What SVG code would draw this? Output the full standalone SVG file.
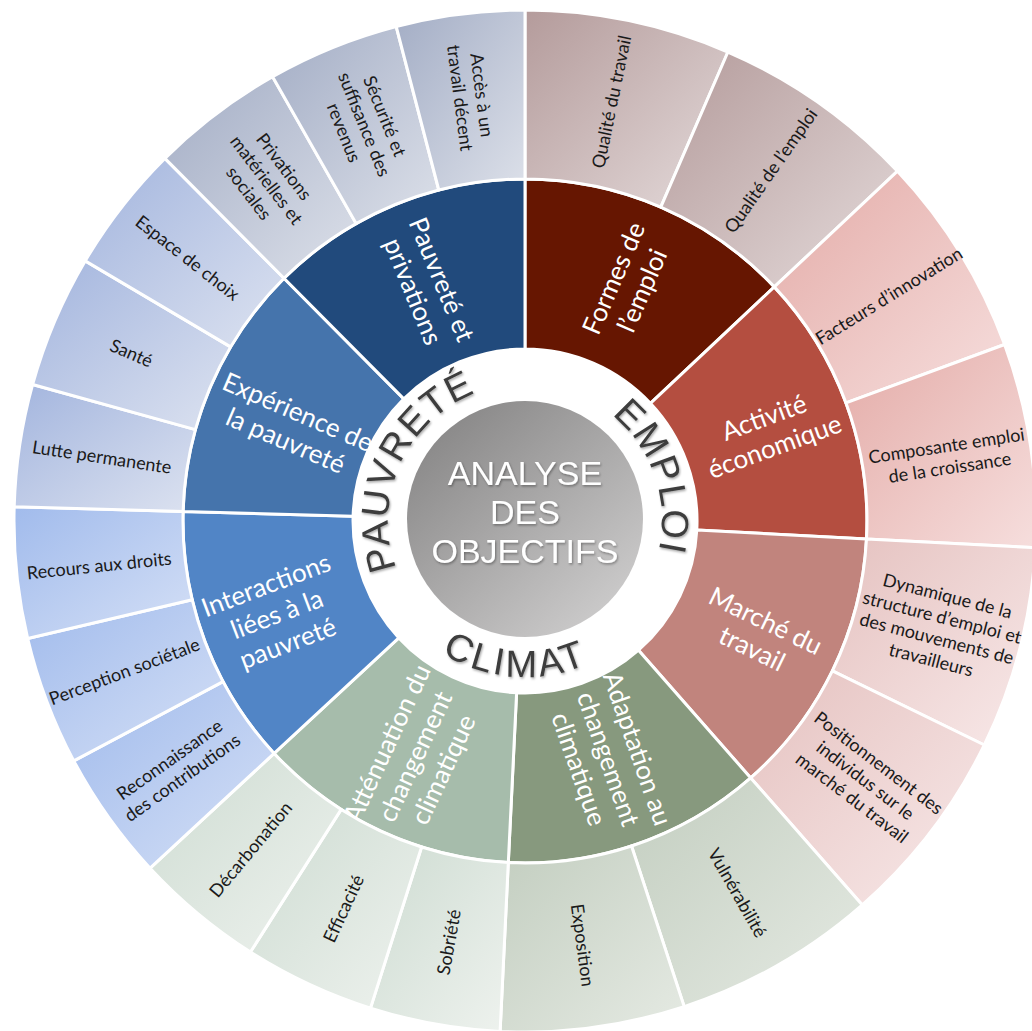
<svg xmlns="http://www.w3.org/2000/svg" width="1032" height="1031" viewBox="0 0 1032 1031">
<defs>
<style>
.seg{stroke:#fff;stroke-width:3;stroke-linejoin:round}
.ol{font-family:Lato,"Liberation Sans",sans-serif;font-size:18px;fill:#1a1a1a;text-anchor:middle}
.il{font-family:Lato,"Liberation Sans",sans-serif;font-size:26px;fill:#fff;text-anchor:middle}
.ring{font-family:"Liberation Sans",Arial,sans-serif;font-size:38px;fill:#3c3c3c;text-anchor:middle;letter-spacing:1.5px}
.ctr{font-family:"Liberation Sans",Arial,sans-serif;font-size:34px;fill:#fff;text-anchor:middle}
</style>
<linearGradient id="gEmp1" x1="0" y1="0" x2="1" y2="1"><stop offset="0" stop-color="#B49B9B"/><stop offset="1" stop-color="#E4DADA"/></linearGradient>
<linearGradient id="gEmp2" x1="0" y1="0" x2="1" y2="1"><stop offset="0" stop-color="#E4ACA8"/><stop offset="1" stop-color="#F6DEDD"/></linearGradient>
<linearGradient id="gEmp3" x1="0" y1="0" x2="1" y2="1"><stop offset="0" stop-color="#E5C2C0"/><stop offset="1" stop-color="#F8E9E9"/></linearGradient>
<linearGradient id="gAdp" x1="0" y1="0" x2="1" y2="1"><stop offset="0" stop-color="#C3CEC0"/><stop offset="1" stop-color="#E5EAE3"/></linearGradient>
<linearGradient id="gAtt" x1="0" y1="0" x2="1" y2="1"><stop offset="0" stop-color="#CEDCD2"/><stop offset="1" stop-color="#EEF2EE"/></linearGradient>
<linearGradient id="gInt" x1="0" y1="0" x2="1" y2="1"><stop offset="0" stop-color="#A1BBEC"/><stop offset="1" stop-color="#D5E0F6"/></linearGradient>
<linearGradient id="gExp" x1="0" y1="0" x2="1" y2="1"><stop offset="0" stop-color="#A3B5DE"/><stop offset="1" stop-color="#DCE2F0"/></linearGradient>
<linearGradient id="gPau" x1="0" y1="0" x2="1" y2="1"><stop offset="0" stop-color="#A3ADC5"/><stop offset="1" stop-color="#DCE0E9"/></linearGradient>
<linearGradient id="gCtr" x1="0.15" y1="0.1" x2="0.85" y2="0.9"><stop offset="0" stop-color="#8A8989"/><stop offset="1" stop-color="#CBCACA"/></linearGradient>
<filter id="sh" x="-20%" y="-20%" width="140%" height="140%"><feDropShadow dx="1" dy="1.5" stdDeviation="1.2" flood-color="#000" flood-opacity="0.35"/></filter>
<path id="cw" d="M 525,658 A 137 137 0 1 1 525,384 A 137 137 0 1 1 525,658"/>
<path id="ccw" d="M 525,365 A 156 156 0 1 0 525,677 A 156 156 0 1 0 525,365"/>
</defs>
<rect width="1032" height="1031" fill="#fff"/>

<!-- Inner ring -->
<g id="formes-emploi">
<path class="seg" fill="#661601" d="M 525,349 L 525,179 A 342 342 0 0 1 774.3,286.9 L 650.4,403.3 A 172 172 0 0 0 525,349 Z"/>
<g transform="translate(627.5,284.2) rotate(-66.6)"><text class="il"><tspan x="0" y="-6">Formes de</tspan><tspan x="0" y="25">l’emploi</tspan></text></g>
</g>
<g id="activite-economique">
<path class="seg" fill="#B44E40" d="M 650.4,403.3 L 774.3,286.9 A 342 342 0 0 1 866.5,538.9 L 696.8,530.0 A 172 172 0 0 0 650.4,403.3 Z"/>
<g transform="translate(769.2,431.6) rotate(-20.1)"><text class="il"><tspan x="0" y="-6">Activité</tspan><tspan x="0" y="25">économique</tspan></text></g>
</g>
<g id="marche-travail">
<path class="seg" fill="#C1847D" d="M 696.8,530.0 L 866.5,538.9 A 342 342 0 0 1 750.7,777.9 L 638.5,650.2 A 172 172 0 0 0 696.8,530.0 Z"/>
<g transform="translate(759,634.4) rotate(25.85)"><text class="il"><tspan x="0" y="-6">Marché du</tspan><tspan x="0" y="25">travail</tspan></text></g>
</g>
<g id="adaptation">
<path class="seg" fill="#87997E" d="M 638.5,650.2 L 750.7,777.9 A 342 342 0 0 1 508.3,862.6 L 516.6,692.8 A 172 172 0 0 0 638.5,650.2 Z"/>
<g transform="translate(608.1,758.9) rotate(70.75)"><text class="il"><tspan x="0" y="-22">Adaptation au</tspan><tspan x="0" y="9">changement</tspan><tspan x="0" y="40">climatique</tspan></text></g>
</g>
<g id="attenuation">
<path class="seg" fill="#A6BCAB" d="M 516.6,692.8 L 508.3,862.6 A 342 342 0 0 1 274.1,753.4 L 398.8,637.9 A 172 172 0 0 0 516.6,692.8 Z"/>
<g transform="translate(415.1,756.6) rotate(-65)"><text class="il"><tspan x="0" y="-22">Atténuation du</tspan><tspan x="0" y="9">changement</tspan><tspan x="0" y="40">climatique</tspan></text></g>
</g>
<g id="interactions">
<path class="seg" fill="#5185C6" d="M 398.8,637.9 L 274.1,753.4 A 342 342 0 0 1 183.1,511.5 L 353.1,516.2 A 172 172 0 0 0 398.8,637.9 Z"/>
<g transform="translate(276.9,614.2) rotate(-20.6)"><text class="il"><tspan x="0" y="-22">Interactions</tspan><tspan x="0" y="9">liées à la</tspan><tspan x="0" y="40">pauvreté</tspan></text></g>
</g>
<g id="experience">
<path class="seg" fill="#4574AC" d="M 353.1,516.2 L 183.1,511.5 A 342 342 0 0 1 284.0,278.3 L 403.8,398.9 A 172 172 0 0 0 353.1,516.2 Z"/>
<g transform="translate(292,426) rotate(23.4)"><text class="il"><tspan x="0" y="-6">Expérience de</tspan><tspan x="0" y="25">la pauvreté</tspan></text></g>
</g>
<g id="pauvrete-privations">
<path class="seg" fill="#214A7C" d="M 403.8,398.9 L 284.0,278.3 A 342 342 0 0 1 525,179 L 525,349 A 172 172 0 0 0 403.8,398.9 Z"/>
<g transform="translate(427.8,285.3) rotate(67.6)"><text class="il"><tspan x="0" y="-6">Pauvreté et</tspan><tspan x="0" y="25">privations</tspan></text></g>
</g>

<!-- Outer ring -->
<g id="qualite-travail">
<path class="seg" fill="url(#gEmp1)" d="M 525,179 L 525,10 A 511 511 0 0 1 727.9,52.0 L 660.8,207.1 A 342 342 0 0 0 525,179 Z"/>
<g transform="translate(611.8,101.9) rotate(-78.3)"><text class="ol"><tspan x="0" y="6">Qualité du travail</tspan></text></g>
</g>
<g id="qualite-emploi">
<path class="seg" fill="url(#gEmp1)" d="M 660.8,207.1 L 727.9,52.0 A 511 511 0 0 1 897.5,171.2 L 774.3,286.9 A 342 342 0 0 0 660.8,207.1 Z"/>
<g transform="translate(771.1,170.9) rotate(-54.9)"><text class="ol"><tspan x="0" y="6">Qualité de l’emploi</tspan></text></g>
</g>
<g id="facteurs-innovation">
<path class="seg" fill="url(#gEmp2)" d="M 774.3,286.9 L 897.5,171.2 A 511 511 0 0 1 1004.6,344.5 L 846.0,402.9 A 342 342 0 0 0 774.3,286.9 Z"/>
<g transform="translate(889.1,296.1) rotate(-31.7)"><text class="ol"><tspan x="0" y="6">Facteurs d’innovation</tspan></text></g>
</g>
<g id="composante-emploi">
<path class="seg" fill="url(#gEmp2)" d="M 846.0,402.9 L 1004.6,344.5 A 511 511 0 0 1 1035.3,547.7 L 866.5,538.9 A 342 342 0 0 0 846.0,402.9 Z"/>
<g transform="translate(948.2,457) rotate(-8.6)"><text class="ol"><tspan x="0" y="-5">Composante emploi</tspan><tspan x="0" y="17">de la croissance</tspan></text></g>
</g>
<g id="dynamique-structure">
<path class="seg" fill="url(#gEmp3)" d="M 866.5,538.9 L 1035.3,547.7 A 511 511 0 0 1 984.3,745.0 L 832.4,670.9 A 342 342 0 0 0 866.5,538.9 Z"/>
<g transform="translate(939.3,628.2) rotate(14.5)"><text class="ol"><tspan x="0" y="-27">Dynamique de la</tspan><tspan x="0" y="-5">structure d’emploi et</tspan><tspan x="0" y="17">des mouvements de</tspan><tspan x="0" y="39">travailleurs</tspan></text></g>
</g>
<g id="positionnement-individus">
<path class="seg" fill="url(#gEmp3)" d="M 832.4,670.9 L 984.3,745.0 A 511 511 0 0 1 862.3,904.9 L 750.7,777.9 A 342 342 0 0 0 832.4,670.9 Z"/>
<g transform="translate(865.2,780.7) rotate(37.35)"><text class="ol"><tspan x="0" y="-16">Positionnement des</tspan><tspan x="0" y="6">individus sur le</tspan><tspan x="0" y="28">marché du travail</tspan></text></g>
</g>
<g id="vulnerabilite">
<path class="seg" fill="url(#gAdp)" d="M 750.7,777.9 L 862.3,904.9 A 511 511 0 0 1 684.2,1006.6 L 631.5,846.0 A 342 342 0 0 0 750.7,777.9 Z"/>
<g transform="translate(737.1,892.8) rotate(60.3)"><text class="ol"><tspan x="0" y="6">Vulnérabilité</tspan></text></g>
</g>
<g id="exposition">
<path class="seg" fill="url(#gAdp)" d="M 631.5,846.0 L 684.2,1006.6 A 511 511 0 0 1 500.1,1031.4 L 508.3,862.6 A 342 342 0 0 0 631.5,846.0 Z"/>
<g transform="translate(582.3,945.1) rotate(82.3)"><text class="ol"><tspan x="0" y="6">Exposition</tspan></text></g>
</g>
<g id="sobriete">
<path class="seg" fill="url(#gAtt)" d="M 508.3,862.6 L 500.1,1031.4 A 511 511 0 0 1 370.5,1008.1 L 421.6,847.0 A 342 342 0 0 0 508.3,862.6 Z"/>
<g transform="translate(449.2,942.2) rotate(-79.8)"><text class="ol"><tspan x="0" y="6">Sobriété</tspan></text></g>
</g>
<g id="efficacite">
<path class="seg" fill="url(#gAtt)" d="M 421.6,847.0 L 370.5,1008.1 A 511 511 0 0 1 250.4,952.0 L 341.2,809.4 A 342 342 0 0 0 421.6,847.0 Z"/>
<g transform="translate(343.8,908.8) rotate(-64.95)"><text class="ol"><tspan x="0" y="6">Efficacité</tspan></text></g>
</g>
<g id="decarbonation">
<path class="seg" fill="url(#gAtt)" d="M 341.2,809.4 L 250.4,952.0 A 511 511 0 0 1 150.1,868.2 L 274.1,753.4 A 342 342 0 0 0 341.2,809.4 Z"/>
<g transform="translate(250.8,849.7) rotate(-50.15)"><text class="ol"><tspan x="0" y="6">Décarbonation</tspan></text></g>
</g>
<g id="reconnaissance">
<path class="seg" fill="url(#gInt)" d="M 274.1,753.4 L 150.1,868.2 A 511 511 0 0 1 73.8,760.9 L 223.0,681.6 A 342 342 0 0 0 274.1,753.4 Z"/>
<g transform="translate(176.1,768.9) rotate(-35.4)"><text class="ol"><tspan x="0" y="-5">Reconnaissance</tspan><tspan x="0" y="17">des contributions</tspan></text></g>
</g>
<g id="perception">
<path class="seg" fill="url(#gInt)" d="M 223.0,681.6 L 73.8,760.9 A 511 511 0 0 1 27.7,638.5 L 192.2,599.7 A 342 342 0 0 0 223.0,681.6 Z"/>
<g transform="translate(124.5,671.9) rotate(-20.65)"><text class="ol"><tspan x="0" y="6">Perception sociétale</tspan></text></g>
</g>
<g id="recours-droits">
<path class="seg" fill="url(#gInt)" d="M 192.2,599.7 L 27.7,638.5 A 511 511 0 0 1 14.2,506.7 L 183.1,511.5 A 342 342 0 0 0 192.2,599.7 Z"/>
<g transform="translate(99.2,566) rotate(-5.85)"><text class="ol"><tspan x="0" y="6">Recours aux droits</tspan></text></g>
</g>
<g id="lutte-permanente">
<path class="seg" fill="url(#gExp)" d="M 183.1,511.5 L 14.2,506.7 A 511 511 0 0 1 32.6,384.5 L 195.4,429.6 A 342 342 0 0 0 183.1,511.5 Z"/>
<g transform="translate(101.8,457.4) rotate(8.55)"><text class="ol"><tspan x="0" y="6">Lutte permanente</tspan></text></g>
</g>
<g id="sante">
<path class="seg" fill="url(#gExp)" d="M 195.4,429.6 L 32.6,384.5 A 511 511 0 0 1 85.2,260.9 L 230.6,346.9 A 342 342 0 0 0 195.4,429.6 Z"/>
<g transform="translate(131.2,353.4) rotate(23.05)"><text class="ol"><tspan x="0" y="6">Santé</tspan></text></g>
</g>
<g id="espace-choix">
<path class="seg" fill="url(#gExp)" d="M 230.6,346.9 L 85.2,260.9 A 511 511 0 0 1 164.9,158.4 L 284.0,278.3 A 342 342 0 0 0 230.6,346.9 Z"/>
<g transform="translate(187.3,258.1) rotate(37.9)"><text class="ol"><tspan x="0" y="6">Espace de choix</tspan></text></g>
</g>
<g id="privations">
<path class="seg" fill="url(#gPau)" d="M 284.0,278.3 L 164.9,158.4 A 511 511 0 0 1 272.6,76.7 L 356.1,223.6 A 342 342 0 0 0 284.0,278.3 Z"/>
<g transform="translate(266.2,180.1) rotate(52.8)"><text class="ol"><tspan x="0" y="-16">Privations</tspan><tspan x="0" y="6">matérielles et</tspan><tspan x="0" y="28">sociales</tspan></text></g>
</g>
<g id="securite-revenus">
<path class="seg" fill="url(#gPau)" d="M 356.1,223.6 L 272.6,76.7 A 511 511 0 0 1 396.2,26.5 L 438.8,190.0 A 342 342 0 0 0 356.1,223.6 Z"/>
<g transform="translate(364,124.5) rotate(67.9)"><text class="ol"><tspan x="0" y="-16">Sécurité et</tspan><tspan x="0" y="6">suffisance des</tspan><tspan x="0" y="28">revenus</tspan></text></g>
</g>
<g id="acces-travail">
<path class="seg" fill="url(#gPau)" d="M 438.8,190.0 L 396.2,26.5 A 511 511 0 0 1 525,10 L 525,179 A 342 342 0 0 0 438.8,190.0 Z"/>
<g transform="translate(470.6,96.5) rotate(82.7)"><text class="ol"><tspan x="0" y="-5">Accès à un</tspan><tspan x="0" y="17">travail décent</tspan></text></g>
</g>

<!-- Ring titles -->
<g id="ring-titles" filter="url(#sh)">
<text class="ring"><textPath href="#cw" startOffset="273.8">PAUVRETÉ</textPath></text>
<text class="ring"><textPath href="#cw" startOffset="600.2">EMPLOI</textPath></text>
<text class="ring" style="letter-spacing:3px"><textPath href="#ccw" startOffset="479.2">CLIMAT</textPath></text>
</g>

<!-- Center -->
<g id="center">
<circle cx="525" cy="519" r="118" fill="url(#gCtr)"/>
<g filter="url(#sh)">
<text class="ctr" x="525" y="485">ANALYSE</text>
<text class="ctr" x="525" y="524">DES</text>
<text class="ctr" x="525" y="563">OBJECTIFS</text>
</g>
</g>
</svg>
